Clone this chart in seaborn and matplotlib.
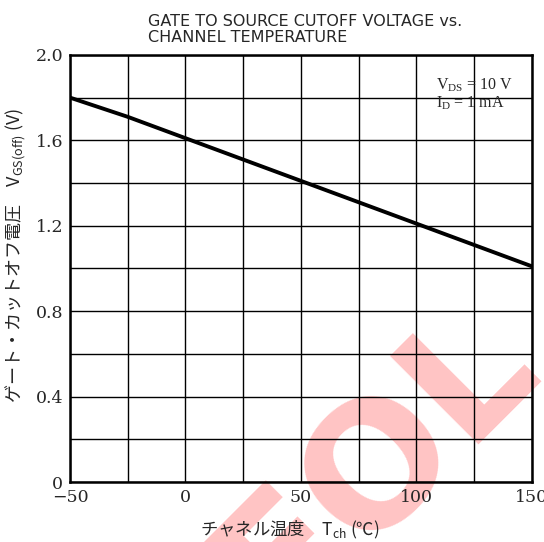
import matplotlib
matplotlib.use("Agg")
import matplotlib.pyplot as plt
import seaborn as sns
import pandas as pd
import numpy as np

# values
temps = [-50, -25, 0, 25, 50, 75, 100, 125, 150]
vgs_off = [1.80, 1.71, 1.61, 1.51, 1.41, 1.31, 1.21, 1.11, 1.01]

x_ticks = [-50, -25, 0, 25, 50, 75, 100, 125, 150]
x_labels = ["\u221250", "", "0", "", "50", "", "100", "", "150"]
y_ticks = [0, 0.2, 0.4, 0.6, 0.8, 1.0, 1.2, 1.4, 1.6, 1.8, 2.0]
y_labels = ["0", "", "0.4", "", "0.8", "", "1.2", "", "1.6", "", "2.0"]

sns.set_style("white")
plt.rcParams['font.family'] = ['DejaVu Serif', 'Noto Sans CJK JP', 'DejaVu Sans']
plt.rcParams['axes.unicode_minus'] = True

df = pd.DataFrame({"Tch": temps, "VGS": vgs_off})

fig = plt.figure(figsize=(5.44, 5.42), dpi=100)
ax = fig.add_axes([0.1287, 0.1107, 0.849, 0.788])

# EOL watermark, under the grid
ax.text(0.69, 0.142, "EOL", rotation=45, ha="center", va="center",
        fontsize=124, fontweight="bold", color="#ffc4c4",
        family="DejaVu Sans", zorder=0.1, clip_on=False,
        transform=fig.transFigure)

sns.lineplot(data=df, x="Tch", y="VGS", ax=ax, color="black", linewidth=2.8, zorder=3)

ax.set_xlim(-50, 150)
ax.set_ylim(0, 2.0)
ax.set_xticks(x_ticks)
ax.set_xticklabels(x_labels, fontsize=12.5)
ax.set_yticks(y_ticks)
ax.set_yticklabels(y_labels, fontsize=12.5)
ax.tick_params(length=0, pad=5)
ax.grid(True, color="black", linewidth=1.0)
ax.set_axisbelow(True)
for s in ax.spines.values():
    s.set_color("black")
    s.set_linewidth(1.8)
    s.set_zorder(4)

ax.set_xlabel("チャネル温度　$\\mathregular{T_{ch}}$ (℃)", family="Noto Sans CJK JP",
              fontsize=12.5)
ax.set_ylabel("ゲート・カットオフ電圧　$\\mathregular{V_{GS(off)}}$ (V)", family="Noto Sans CJK JP",
              fontsize=13)
ax.xaxis.set_label_coords(0.476, -0.087)
ax.yaxis.set_label_coords(-0.091, 0.53)

ax.text(108.5, 1.86, "$\\mathregular{V_{DS}}$ = 10 V", fontsize=11.5, va="center",
        family="Liberation Serif", zorder=5)
ax.text(108.5, 1.775, "$\\mathregular{I_{D}}$ = 1 mA", fontsize=11.5, va="center",
        family="Liberation Serif", zorder=5)

fig.text(0.272, 0.975, "GATE TO SOURCE CUTOFF VOLTAGE vs.\nCHANNEL TEMPERATURE",
         family=["Liberation Sans Narrow", "DejaVu Sans"], fontsize=11.5,
         ha="left", va="top", linespacing=1.1)

fig.savefig("out.png", dpi=100)
